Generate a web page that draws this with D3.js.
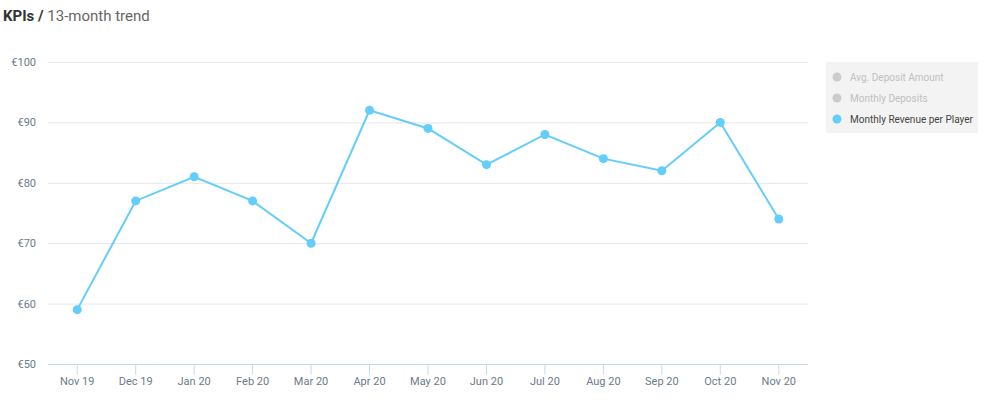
<!DOCTYPE html>
<html>
<head>
<meta charset="utf-8">
<script src="https://cdn.jsdelivr.net/npm/d3@7"></script>
<style>
    body { margin: 0; background: #fff; font-family: Roboto, "Open Sans", sans-serif; }
    svg { display: block; }
</style>
</head>
<body>
<script>
const months = ["Nov 19", "Dec 19", "Jan 20", "Feb 20", "Mar 20", "Apr 20", "May 20",
    "Jun 20", "Jul 20", "Aug 20", "Sep 20", "Oct 20", "Nov 20"];
const revenuePerPlayer = [59, 77, 81, 77, 70, 92, 89, 83, 88, 84, 82, 90, 74];
const yTicks = [50, 60, 70, 80, 90, 100];
const legendItems = [
    { name: "Avg. Deposit Amount", active: false },
    { name: "Monthly Deposits", active: false },
    { name: "Monthly Revenue per Player", active: true }
];

const width = 1000;
const height = 406;
const plot = { left: 48, right: 808, top: 62, bottom: 364 };
const lineColor = "#63cdfc";

const svg = d3.select("body").append("svg")
    .attr("width", width)
    .attr("height", height);

// title
const title = svg.append("text")
    .attr("x", 3)
    .attr("y", 21)
    .style("font-size", "15px");
title.append("tspan")
    .attr("font-weight", "bold")
    .attr("fill", "#333")
    .text("KPIs / ");
title.append("tspan")
    .attr("fill", "#666")
    .text("13-month trend");

const xScale = d3.scaleBand()
    .domain(months)
    .range([plot.left, plot.right]);

const yScale = d3.scaleLinear()
    .domain([50, 100])
    .range([plot.bottom, plot.top]);

// gridlines
svg.append("g")
    .selectAll("line")
    .data(yTicks.filter(d => d !== 50))
    .enter().append("line")
    .attr("x1", plot.left)
    .attr("x2", plot.right)
    .attr("y1", d => yScale(d) + 0.5)
    .attr("y2", d => yScale(d) + 0.5)
    .attr("stroke", "#e6e6e6");

// y labels
svg.append("g")
    .selectAll("text")
    .data(yTicks)
    .enter().append("text")
    .attr("x", 36)
    .attr("y", d => yScale(d) + 4)
    .attr("text-anchor", "end")
    .attr("fill", "#6b7b8c")
    .style("font-size", "11px")
    .text(d => "€" + d);

// x axis
const xAxis = d3.axisBottom(xScale).tickSize(10).tickPadding(3);
const gx = svg.append("g")
    .attr("transform", "translate(0," + (plot.bottom + 0.5) + ")")
    .call(xAxis);
gx.select(".domain").attr("stroke", "#ccd6eb").attr("d", "M" + plot.left + ",0H" + plot.right);
gx.selectAll(".tick line").attr("stroke", "#ccd6eb");
gx.selectAll(".tick text")
    .attr("fill", "#6b7b8c")
    .style("font-size", "11px")
    .style("font-family", "Roboto, sans-serif");

// line
const cx = (d, i) => xScale(months[i]) + xScale.bandwidth() / 2;
const line = d3.line()
    .x(cx)
    .y(d => yScale(d));

svg.append("path")
    .datum(revenuePerPlayer)
    .attr("d", line)
    .attr("fill", "none")
    .attr("stroke", lineColor)
    .attr("stroke-width", 2);

svg.append("g")
    .selectAll("circle")
    .data(revenuePerPlayer)
    .enter().append("circle")
    .attr("cx", cx)
    .attr("cy", d => yScale(d))
    .attr("r", 4.5)
    .attr("fill", lineColor);

// legend
const legend = svg.append("g")
    .attr("transform", "translate(826,62)");
legend.append("rect")
    .attr("width", 152)
    .attr("height", 71)
    .attr("fill", "#f3f3f3");
const item = legend.selectAll(".legend-item")
    .data(legendItems)
    .enter().append("g")
    .attr("class", "legend-item")
    .attr("transform", (d, i) => "translate(0," + (15 + i * 21) + ")");
item.append("circle")
    .attr("cx", 11)
    .attr("cy", 0)
    .attr("r", 4.5)
    .attr("fill", d => d.active ? lineColor : "#cccccc");
item.append("text")
    .attr("x", 24)
    .attr("y", 3.5)
    .attr("fill", d => d.active ? "#444" : "#c0c0c0")
    .style("font-size", "10px")
    .text(d => d.name);
</script>
</body>
</html>
